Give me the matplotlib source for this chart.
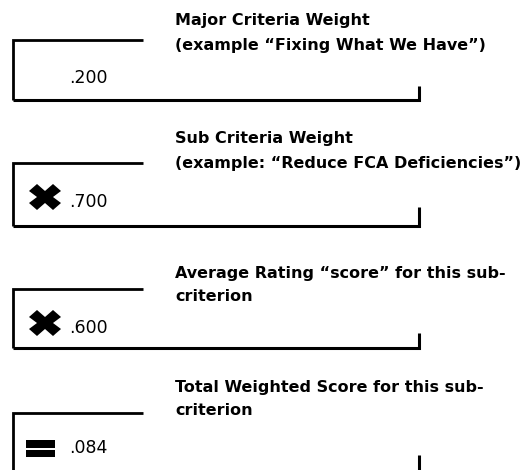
import matplotlib
matplotlib.use('Agg')
import matplotlib.pyplot as plt
from matplotlib.markers import MarkerStyle
from matplotlib.patches import Rectangle
from matplotlib.transforms import Affine2D

# Content of the four boxes
titles = [
    ['Major Criteria Weight', '(example \u201cFixing What We Have\u201d)'],
    ['Sub Criteria Weight', '(example: \u201cReduce FCA Deficiencies\u201d)'],
    ['Average Rating \u201cscore\u201d for this sub-', 'criterion'],
    ['Total Weighted Score for this sub-', 'criterion'],
]
values = ['.200', '.700', '.600', '.084']
operators = [None, 'times', 'times', 'equals']

# Layout (pixels, y down)
box_top = [40, 163, 289, 413]
box_bottom = [100, 226, 348, 478]
tick_top = [86, 207, 333, 455]
title_base = [(25, 50), (143, 168), (278, 301), (392, 415)]
value_base = [83, 207, 333, 453]

fig = plt.figure(figsize=(5.22, 4.70), dpi=100)
ax = fig.add_axes([0, 0, 1, 1])
ax.set_xlim(0, 522)
ax.set_ylim(470, 0)
ax.axis('off')

# heavy multiplication sign, a bit wider than tall
times_marker = MarkerStyle('X', transform=Affine2D().scale(1.0, 0.8))

for i in range(4):
    top, bot = box_top[i], box_bottom[i]
    # Bracket shaped box
    ax.plot([143, 13, 13], [top, top, bot], color='black', lw=2.0,
            solid_capstyle='butt', solid_joinstyle='miter')
    ax.plot([13, 419, 419], [bot, bot, tick_top[i]], color='black', lw=2.2,
            solid_capstyle='butt', solid_joinstyle='miter')

    # Title text
    for line, yb in zip(titles[i], title_base[i]):
        ax.text(175, yb, line, fontsize=11.5, fontweight='bold',
                family='DejaVu Sans', va='baseline', ha='left')

    # Value
    ax.text(69, value_base[i], values[i], fontsize=12.5,
            family='DejaVu Sans', va='baseline', ha='left')

    # Operator symbol
    if operators[i] == 'times':
        ax.plot([45], [value_base[i] - 10], marker=times_marker,
                markersize=23, color='black', markeredgewidth=0)
    elif operators[i] == 'equals':
        ax.add_patch(Rectangle((26, 440), 29, 8, color='black', lw=0))
        ax.add_patch(Rectangle((26, 450), 29, 7, color='black', lw=0))

fig.savefig('out.png', dpi=100)
